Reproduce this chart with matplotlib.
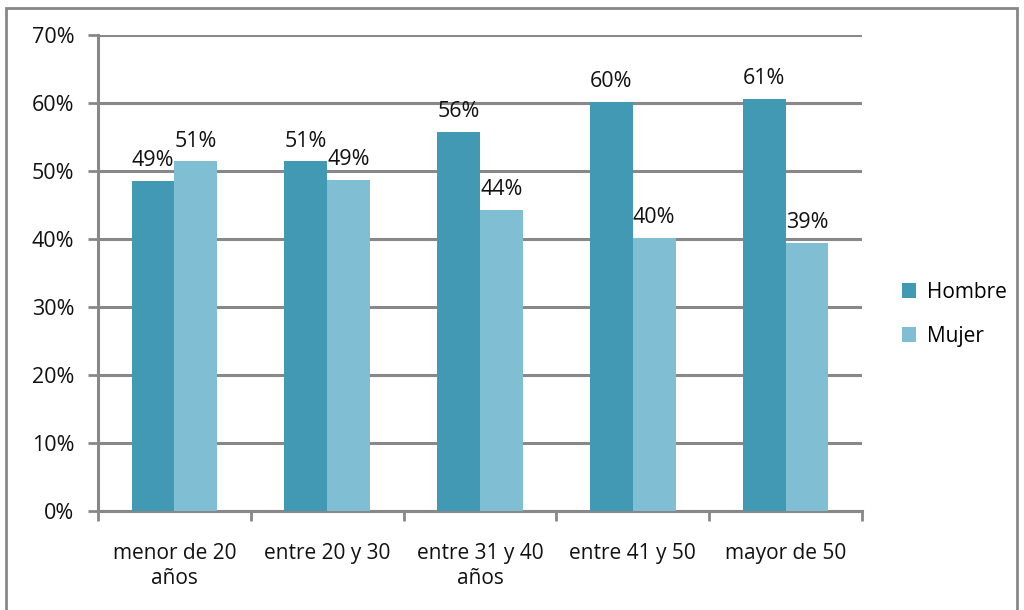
import matplotlib.pyplot as plt
import numpy as np
from matplotlib.patches import Rectangle

categories = ["menor de 20\naños", "entre 20 y 30", "entre 31 y 40\naños", "entre 41 y 50", "mayor de 50"]
hombre = [48.5, 51.4, 55.8, 60.1, 60.6]
mujer = [51.4, 48.7, 44.3, 40.1, 39.4]
hombre_labels = ["49%", "51%", "56%", "60%", "61%"]
mujer_labels = ["51%", "49%", "44%", "40%", "39%"]

c_h = "#4299b4"
c_m = "#80bed3"
grid_c = "#888888"

plt.rcParams['font.family'] = ['Open Sans', 'DejaVu Sans']

fig = plt.figure(figsize=(10.24, 6.10), dpi=100)
ax = fig.add_axes([98 / 1024, 1 - 511 / 610, (862 - 98) / 1024, (511 - 35) / 610])

x = np.arange(len(categories))
w = 0.28
ax.bar(x - w / 2, hombre, w, color=c_h, label="Hombre", zorder=3)
ax.bar(x + w / 2, mujer, w, color=c_m, label="Mujer", zorder=3)

for i in range(len(categories)):
    ax.text(x[i] - w / 2, hombre[i] + 3.0, hombre_labels[i], ha="center", va="center", fontsize=15.5, color="#111111", zorder=4)
    ax.text(x[i] + w / 2, mujer[i] + 3.0, mujer_labels[i], ha="center", va="center", fontsize=15.5, color="#111111", zorder=4)

ax.set_xlim(-0.5, len(categories) - 0.5)
ax.set_ylim(0, 70)
ax.set_yticks(range(0, 71, 10))
ax.set_yticklabels([f"{v}%" for v in range(0, 71, 10)], fontsize=15.5, color="#111111")
ax.yaxis.grid(True, color=grid_c, linewidth=2.2, zorder=1)

ax.set_xticks(np.arange(-0.5, len(categories), 1.0))
ax.set_xticklabels([])
ax.set_xticks(x, minor=True)
ax.set_xticklabels(categories, minor=True, fontsize=15, color="#111111", linespacing=1.25)
ax.tick_params(axis="x", which="minor", length=0, pad=23)
ax.tick_params(axis="x", which="major", length=7, width=2, color=grid_c)
ax.tick_params(axis="y", length=7, width=2, color=grid_c, pad=10)

for s in ["top", "right"]:
    ax.spines[s].set_visible(False)
for s in ["left", "bottom"]:
    ax.spines[s].set_color(grid_c)
    ax.spines[s].set_linewidth(2.2)

leg = fig.legend(loc="upper left", bbox_to_anchor=(883 / 1024, 1 - 263 / 610), frameon=False,
                 fontsize=15, handlelength=0.7, handleheight=0.7, labelspacing=1.1, handletextpad=0.5)

fig.patches.append(Rectangle((6 / 1024, -0.01), (1017 - 6) / 1024, 1 - 8 / 610 + 0.01,
                             transform=fig.transFigure, fill=False, edgecolor=grid_c, linewidth=2))

fig.savefig("out.png", dpi=100)
